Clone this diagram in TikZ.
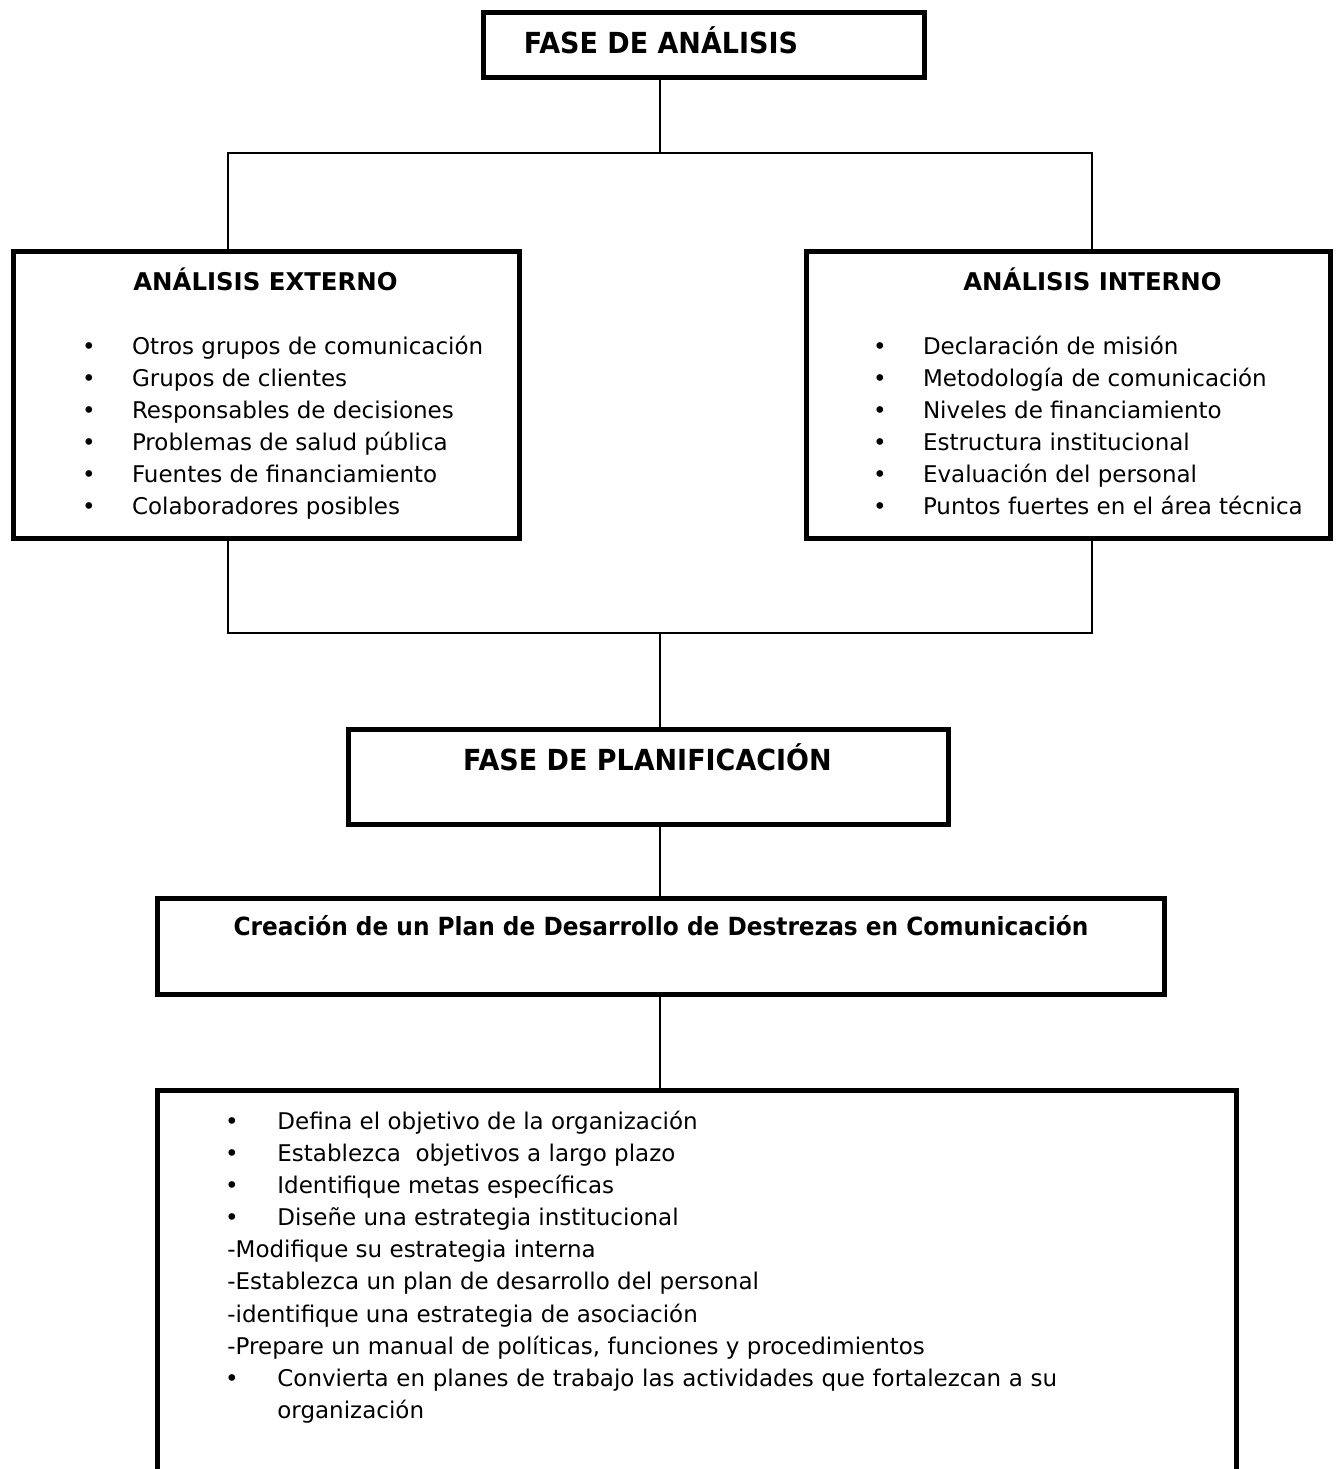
\documentclass[tikz,border=0pt]{standalone}
\usepackage{fontspec}
\setmainfont{DejaVu Sans}
\newfontfamily\headfont{DejaVu Sans}[FakeStretch=0.93]
\usetikzlibrary{matrix}

\begin{document}
\begin{tikzpicture}[
  x=0.5pt, y=-0.5pt,
  ampersand replacement=\&,
  box/.style={draw, line width=2.5pt, inner sep=0pt, outer sep=0pt},
  link/.style={line width=0.7pt},
  bigtitle/.style={font=\headfont\fontsize{14.5}{17}\selectfont\bfseries, anchor=base, inner sep=0pt},
  subtitle/.style={font=\fontsize{12.2}{15}\selectfont\bfseries, anchor=base, inner sep=0pt},
  plantitle/.style={font=\headfont\fontsize{12.5}{15}\selectfont\bfseries, anchor=base, inner sep=0pt},
  item/.style={font=\fontsize{11.5}{16}\selectfont, anchor=base west, inner sep=0pt},
  dot/.style={item, anchor=base},
  itemlist/.style={matrix of nodes, anchor=north west, inner sep=0pt, outer sep=0pt,
    row sep=4pt, column sep=16.5pt,
    nodes={item, text height=9pt, text depth=3pt, outer sep=0pt},
    column 1/.style={nodes={text width=10pt, align=center}}}
]
  \useasboundingbox (0,0) rectangle (1335,1469);

  % --- Cajas ---
  \node[box, minimum width=220.5pt, minimum height=32.5pt] (analisis) at (703.5,44.5) {};
  \node[box, minimum width=253pt,   minimum height=143.5pt] (externo) at (266,394.5) {};
  \node[box, minimum width=262pt,   minimum height=143.5pt] (interno) at (1068,394.5) {};
  \node[box, minimum width=300pt,   minimum height=47.5pt] (planif) at (648,776.5) {};
  \node[box, minimum width=503.5pt, minimum height=48pt] (plan) at (660.5,946) {};
  \node[box, minimum width=539.5pt, minimum height=225pt] (pasos) at (696.5,1315) {};

  % --- Titulos ---
  \node[bigtitle] (analisisT) at (661,53) {FASE DE ANÁLISIS};
  \node[subtitle] (externoT) at (265.5,290) {ANÁLISIS EXTERNO};
  \node[subtitle] (internoT) at (1092.5,290) {ANÁLISIS INTERNO};
  \node[bigtitle] (planifT) at (647.5,770) {FASE DE PLANIFICACIÓN};
  \node[plantitle] (planT) at (661,935) {Creación de un Plan de Desarrollo de Destrezas en Comunicación};

  % --- Listas ---
  \matrix (extList) [itemlist] at (79,336) {
    • \& Otros grupos de comunicación \\
    • \& Grupos de clientes \\
    • \& Responsables de decisiones \\
    • \& Problemas de salud pública \\
    • \& Fuentes de financiamiento \\
    • \& Colaboradores posibles \\
  };

  \matrix (intList) [itemlist] at (870,336) {
    • \& Declaración de misión \\
    • \& Metodología de comunicación \\
    • \& Niveles de financiamiento \\
    • \& Estructura institucional \\
    • \& Evaluación del personal \\
    • \& Puntos fuertes en el área técnica \\
  };

  \node[dot] (d1) at (232,1129) {•};
  \node[item] (p1) at (277,1129) {Defina el objetivo de la organización};
  \node[dot] (d2) at (232,1161) {•};
  \node[item] (p2) at (277,1161) {Establezca~ objetivos a largo plazo};
  \node[dot] (d3) at (232,1193) {•};
  \node[item] (p3) at (277,1193) {Identifique metas específicas};
  \node[dot] (d4) at (232,1225) {•};
  \node[item] (p4) at (277,1225) {Diseñe una estrategia institucional};
  \node[item] (p5) at (227,1257) {-Modifique su estrategia interna};
  \node[item] (p6) at (227,1289) {-Establezca un plan de desarrollo del personal};
  \node[item] (p7) at (227,1322) {-identifique una estrategia de asociación};
  \node[item] (p8) at (227,1354) {-Prepare un manual de políticas, funciones y procedimientos};
  \node[dot] (d9) at (232,1386) {•};
  \node[item, text width=440pt, align=left] (p9) at (277,1386)
    {Convierta en planes de trabajo las actividades que fortalezcan a su\\organización};

  % --- Conexiones ---
  \coordinate (spine) at (660,0);
  \coordinate (hubL) at (228,153);
  \coordinate (hubR) at (1092,153);
  \coordinate (lowL) at (228,633);
  \coordinate (lowR) at (1092,633);

  \draw[link] (analisis.south -| spine) -- (hubL -| spine);
  \draw[link] (externo.north -| hubL) -- (hubL) -- (hubR) -- (interno.north -| hubR);
  \draw[link] (externo.south -| lowL) -- (lowL) -- (lowR) -- (interno.south -| lowR);
  \draw[link] (lowL -| spine) -- (planif.north -| spine);
  \draw[link] (planif.south -| spine) -- (plan.north -| spine);
  \draw[link] (plan.south -| spine) -- (pasos.north -| spine);
\end{tikzpicture}
\end{document}
